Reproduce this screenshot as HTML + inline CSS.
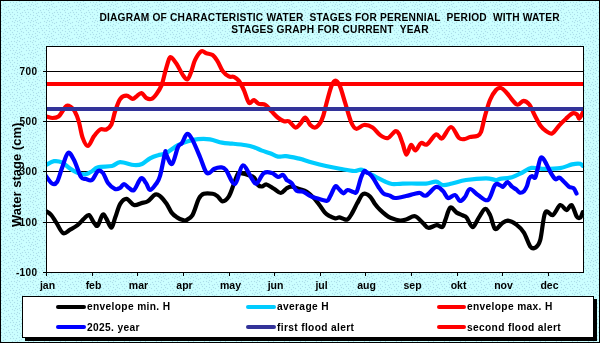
<!DOCTYPE html>
<html><head><meta charset="utf-8"><style>
html,body{margin:0;padding:0;background:#ccffff;overflow:hidden;}
svg{display:block;will-change:transform;}
text{font-family:"Liberation Sans",sans-serif;font-weight:bold;fill:#000;}
</style></head><body>
<svg width="600" height="343" viewBox="0 0 600 343">
<defs>
<pattern id="dp" x="0" y="0" width="16" height="16" patternUnits="userSpaceOnUse">
<rect width="16" height="16" fill="#ccffff"/><rect x="1" y="0" width="1" height="1" fill="#c9fcfd"/><rect x="3" y="0" width="1" height="1" fill="#c9fcfd"/><rect x="5" y="0" width="1" height="1" fill="#c9fcfd"/><rect x="6" y="0" width="1" height="1" fill="#c9fcfd"/><rect x="7" y="0" width="1" height="1" fill="#acdde9"/><rect x="8" y="0" width="1" height="1" fill="#c9fcfd"/><rect x="11" y="0" width="1" height="1" fill="#c9fcfd"/><rect x="12" y="0" width="1" height="1" fill="#acdde9"/><rect x="13" y="0" width="1" height="1" fill="#c9fcfd"/><rect x="0" y="1" width="1" height="1" fill="#c9fcfd"/><rect x="2" y="1" width="1" height="1" fill="#c9fcfd"/><rect x="3" y="1" width="1" height="1" fill="#acdde9"/><rect x="4" y="1" width="1" height="1" fill="#c9fcfd"/><rect x="7" y="1" width="1" height="1" fill="#c9fcfd"/><rect x="10" y="1" width="1" height="1" fill="#c9fcfd"/><rect x="12" y="1" width="1" height="1" fill="#c9fcfd"/><rect x="13" y="1" width="1" height="1" fill="#c9fcfd"/><rect x="0" y="2" width="1" height="1" fill="#acdde9"/><rect x="1" y="2" width="1" height="1" fill="#c9fcfd"/><rect x="3" y="2" width="1" height="1" fill="#c9fcfd"/><rect x="5" y="2" width="1" height="1" fill="#c9fcfd"/><rect x="9" y="2" width="1" height="1" fill="#c9fcfd"/><rect x="10" y="2" width="1" height="1" fill="#acdde9"/><rect x="11" y="2" width="1" height="1" fill="#c9fcfd"/><rect x="12" y="2" width="1" height="1" fill="#c9fcfd"/><rect x="13" y="2" width="1" height="1" fill="#acdde9"/><rect x="14" y="2" width="1" height="1" fill="#c9fcfd"/><rect x="15" y="2" width="1" height="1" fill="#c9fcfd"/><rect x="0" y="3" width="1" height="1" fill="#c9fcfd"/><rect x="3" y="3" width="1" height="1" fill="#c9fcfd"/><rect x="4" y="3" width="1" height="1" fill="#c9fcfd"/><rect x="5" y="3" width="1" height="1" fill="#acdde9"/><rect x="6" y="3" width="1" height="1" fill="#c9fcfd"/><rect x="10" y="3" width="1" height="1" fill="#c9fcfd"/><rect x="13" y="3" width="1" height="1" fill="#c9fcfd"/><rect x="15" y="3" width="1" height="1" fill="#c9fcfd"/><rect x="0" y="4" width="1" height="1" fill="#c9fcfd"/><rect x="1" y="4" width="1" height="1" fill="#c9fcfd"/><rect x="2" y="4" width="1" height="1" fill="#c9fcfd"/><rect x="3" y="4" width="1" height="1" fill="#acdde9"/><rect x="4" y="4" width="1" height="1" fill="#c9fcfd"/><rect x="5" y="4" width="1" height="1" fill="#c9fcfd"/><rect x="12" y="4" width="1" height="1" fill="#c9fcfd"/><rect x="14" y="4" width="1" height="1" fill="#c9fcfd"/><rect x="15" y="4" width="1" height="1" fill="#acdde9"/><rect x="0" y="5" width="1" height="1" fill="#c9fcfd"/><rect x="1" y="5" width="1" height="1" fill="#acdde9"/><rect x="2" y="5" width="1" height="1" fill="#c9fcfd"/><rect x="3" y="5" width="1" height="1" fill="#c9fcfd"/><rect x="4" y="5" width="1" height="1" fill="#c9fcfd"/><rect x="8" y="5" width="1" height="1" fill="#c9fcfd"/><rect x="11" y="5" width="1" height="1" fill="#c9fcfd"/><rect x="12" y="5" width="1" height="1" fill="#acdde9"/><rect x="13" y="5" width="1" height="1" fill="#c9fcfd"/><rect x="14" y="5" width="1" height="1" fill="#c9fcfd"/><rect x="15" y="5" width="1" height="1" fill="#c9fcfd"/><rect x="1" y="6" width="1" height="1" fill="#c9fcfd"/><rect x="3" y="6" width="1" height="1" fill="#c9fcfd"/><rect x="4" y="6" width="1" height="1" fill="#acdde9"/><rect x="5" y="6" width="1" height="1" fill="#c9fcfd"/><rect x="6" y="6" width="1" height="1" fill="#c9fcfd"/><rect x="7" y="6" width="1" height="1" fill="#c9fcfd"/><rect x="8" y="6" width="1" height="1" fill="#acdde9"/><rect x="9" y="6" width="1" height="1" fill="#c9fcfd"/><rect x="12" y="6" width="1" height="1" fill="#c9fcfd"/><rect x="13" y="6" width="1" height="1" fill="#c9fcfd"/><rect x="14" y="6" width="1" height="1" fill="#acdde9"/><rect x="15" y="6" width="1" height="1" fill="#c9fcfd"/><rect x="1" y="7" width="1" height="1" fill="#c9fcfd"/><rect x="4" y="7" width="1" height="1" fill="#c9fcfd"/><rect x="5" y="7" width="1" height="1" fill="#c9fcfd"/><rect x="6" y="7" width="1" height="1" fill="#acdde9"/><rect x="7" y="7" width="1" height="1" fill="#c9fcfd"/><rect x="8" y="7" width="1" height="1" fill="#c9fcfd"/><rect x="14" y="7" width="1" height="1" fill="#c9fcfd"/><rect x="0" y="8" width="1" height="1" fill="#c9fcfd"/><rect x="1" y="8" width="1" height="1" fill="#acdde9"/><rect x="2" y="8" width="1" height="1" fill="#c9fcfd"/><rect x="3" y="8" width="1" height="1" fill="#c9fcfd"/><rect x="6" y="8" width="1" height="1" fill="#c9fcfd"/><rect x="11" y="8" width="1" height="1" fill="#c9fcfd"/><rect x="14" y="8" width="1" height="1" fill="#c9fcfd"/><rect x="0" y="9" width="1" height="1" fill="#c9fcfd"/><rect x="1" y="9" width="1" height="1" fill="#c9fcfd"/><rect x="2" y="9" width="1" height="1" fill="#c9fcfd"/><rect x="3" y="9" width="1" height="1" fill="#acdde9"/><rect x="4" y="9" width="1" height="1" fill="#c9fcfd"/><rect x="8" y="9" width="1" height="1" fill="#c9fcfd"/><rect x="10" y="9" width="1" height="1" fill="#c9fcfd"/><rect x="11" y="9" width="1" height="1" fill="#acdde9"/><rect x="12" y="9" width="1" height="1" fill="#c9fcfd"/><rect x="13" y="9" width="1" height="1" fill="#c9fcfd"/><rect x="14" y="9" width="1" height="1" fill="#acdde9"/><rect x="15" y="9" width="1" height="1" fill="#c9fcfd"/><rect x="0" y="10" width="1" height="1" fill="#acdde9"/><rect x="1" y="10" width="1" height="1" fill="#c9fcfd"/><rect x="3" y="10" width="1" height="1" fill="#c9fcfd"/><rect x="7" y="10" width="1" height="1" fill="#c9fcfd"/><rect x="8" y="10" width="1" height="1" fill="#acdde9"/><rect x="9" y="10" width="1" height="1" fill="#c9fcfd"/><rect x="11" y="10" width="1" height="1" fill="#c9fcfd"/><rect x="14" y="10" width="1" height="1" fill="#c9fcfd"/><rect x="15" y="10" width="1" height="1" fill="#c9fcfd"/><rect x="0" y="11" width="1" height="1" fill="#c9fcfd"/><rect x="1" y="11" width="1" height="1" fill="#c9fcfd"/><rect x="6" y="11" width="1" height="1" fill="#c9fcfd"/><rect x="8" y="11" width="1" height="1" fill="#c9fcfd"/><rect x="9" y="11" width="1" height="1" fill="#c9fcfd"/><rect x="12" y="11" width="1" height="1" fill="#c9fcfd"/><rect x="0" y="12" width="1" height="1" fill="#c9fcfd"/><rect x="1" y="12" width="1" height="1" fill="#acdde9"/><rect x="2" y="12" width="1" height="1" fill="#c9fcfd"/><rect x="4" y="12" width="1" height="1" fill="#c9fcfd"/><rect x="5" y="12" width="1" height="1" fill="#c9fcfd"/><rect x="6" y="12" width="1" height="1" fill="#acdde9"/><rect x="7" y="12" width="1" height="1" fill="#c9fcfd"/><rect x="8" y="12" width="1" height="1" fill="#c9fcfd"/><rect x="9" y="12" width="1" height="1" fill="#acdde9"/><rect x="10" y="12" width="1" height="1" fill="#c9fcfd"/><rect x="11" y="12" width="1" height="1" fill="#c9fcfd"/><rect x="12" y="12" width="1" height="1" fill="#acdde9"/><rect x="13" y="12" width="1" height="1" fill="#c9fcfd"/><rect x="1" y="13" width="1" height="1" fill="#c9fcfd"/><rect x="3" y="13" width="1" height="1" fill="#c9fcfd"/><rect x="4" y="13" width="1" height="1" fill="#acdde9"/><rect x="5" y="13" width="1" height="1" fill="#c9fcfd"/><rect x="6" y="13" width="1" height="1" fill="#c9fcfd"/><rect x="9" y="13" width="1" height="1" fill="#c9fcfd"/><rect x="10" y="13" width="1" height="1" fill="#c9fcfd"/><rect x="12" y="13" width="1" height="1" fill="#c9fcfd"/><rect x="14" y="13" width="1" height="1" fill="#c9fcfd"/><rect x="1" y="14" width="1" height="1" fill="#c9fcfd"/><rect x="4" y="14" width="1" height="1" fill="#c9fcfd"/><rect x="5" y="14" width="1" height="1" fill="#c9fcfd"/><rect x="9" y="14" width="1" height="1" fill="#c9fcfd"/><rect x="10" y="14" width="1" height="1" fill="#acdde9"/><rect x="11" y="14" width="1" height="1" fill="#c9fcfd"/><rect x="13" y="14" width="1" height="1" fill="#c9fcfd"/><rect x="14" y="14" width="1" height="1" fill="#acdde9"/><rect x="15" y="14" width="1" height="1" fill="#c9fcfd"/><rect x="0" y="15" width="1" height="1" fill="#c9fcfd"/><rect x="1" y="15" width="1" height="1" fill="#acdde9"/><rect x="2" y="15" width="1" height="1" fill="#c9fcfd"/><rect x="4" y="15" width="1" height="1" fill="#c9fcfd"/><rect x="5" y="15" width="1" height="1" fill="#acdde9"/><rect x="6" y="15" width="1" height="1" fill="#c9fcfd"/><rect x="7" y="15" width="1" height="1" fill="#c9fcfd"/><rect x="10" y="15" width="1" height="1" fill="#c9fcfd"/><rect x="12" y="15" width="1" height="1" fill="#c9fcfd"/><rect x="14" y="15" width="1" height="1" fill="#c9fcfd"/>
</pattern>
<filter id="bl" x="0" y="0" width="1" height="1"><feGaussianBlur stdDeviation="0.5"/></filter>
<clipPath id="pc"><rect x="47" y="47" width="536" height="225"/></clipPath>
</defs>
<rect x="0" y="0" width="600" height="343" fill="url(#dp)"/>
<g fill="#000" shape-rendering="crispEdges">
<rect x="0" y="0" width="600" height="1"/><rect x="0" y="0" width="1" height="343"/>
<rect x="599" y="0" width="1" height="343"/><rect x="0" y="342" width="600" height="1"/>
</g>
<text x="329.6" y="21" font-size="10.2" letter-spacing="0.2" text-anchor="middle" xml:space="preserve">DIAGRAM OF CHARACTERISTIC WATER  STAGES FOR PERENNIAL  PERIOD  WITH WATER</text>
<text x="330" y="33" font-size="10.2" letter-spacing="0.2" text-anchor="middle" xml:space="preserve">STAGES GRAPH FOR CURRENT  YEAR</text>
<rect x="46" y="46" width="538" height="227" fill="#fff"/>
<g stroke="#000" stroke-width="1" shape-rendering="crispEdges"><line x1="43" y1="71.5" x2="583" y2="71.5"/><line x1="43" y1="121.5" x2="583" y2="121.5"/><line x1="43" y1="171.5" x2="583" y2="171.5"/><line x1="43" y1="222.5" x2="583" y2="222.5"/><line x1="43" y1="272.5" x2="46" y2="272.5"/><line x1="46.5" y1="272" x2="46.5" y2="276"/><line x1="92.5" y1="272" x2="92.5" y2="276"/><line x1="137.5" y1="272" x2="137.5" y2="276"/><line x1="183.5" y1="272" x2="183.5" y2="276"/><line x1="229.5" y1="272" x2="229.5" y2="276"/><line x1="274.5" y1="272" x2="274.5" y2="276"/><line x1="320.5" y1="272" x2="320.5" y2="276"/><line x1="365.5" y1="272" x2="365.5" y2="276"/><line x1="411.5" y1="272" x2="411.5" y2="276"/><line x1="457.5" y1="272" x2="457.5" y2="276"/><line x1="502.5" y1="272" x2="502.5" y2="276"/><line x1="548.5" y1="272" x2="548.5" y2="276"/></g>
<g fill="none" stroke-linejoin="round" stroke-linecap="round" stroke-width="4.2" clip-path="url(#pc)">
<path d="M46.3,211.3 C47.1,211.9 49.6,213.2 51.3,215.1 C53.0,217.0 54.3,219.6 56.3,222.6 C58.3,225.6 60.8,231.9 63.1,233.1 C65.4,234.3 67.7,230.9 70.1,229.6 C72.5,228.3 75.3,226.9 77.6,225.1 C79.9,223.3 82.0,220.5 83.9,218.8 C85.8,217.1 87.2,214.5 88.9,215.1 C90.6,215.7 92.5,220.8 93.9,222.6 C95.4,224.3 96.1,226.9 97.6,225.6 C99.1,224.3 101.2,215.7 102.7,214.6 C104.2,213.5 105.0,216.6 106.4,218.8 C107.9,221.0 109.9,227.8 111.4,227.6 C112.9,227.4 113.7,221.6 115.2,217.6 C116.7,213.6 118.3,206.9 120.2,203.8 C122.1,200.7 124.2,198.6 126.5,198.8 C128.8,199.0 131.5,204.4 134.0,205.1 C136.5,205.8 139.2,203.7 141.5,203.1 C143.8,202.5 145.5,202.7 147.8,201.3 C150.1,199.9 153.2,195.3 155.3,194.5 C157.4,193.7 158.4,194.8 160.3,196.3 C162.2,197.9 164.7,201.1 166.6,203.8 C168.5,206.5 169.9,210.4 171.6,212.6 C173.3,214.8 174.7,215.8 176.6,217.1 C178.5,218.3 181.3,219.6 182.9,220.1 C184.5,220.6 184.7,220.9 186.3,220.1 C187.9,219.3 190.4,218.6 192.5,215.1 C194.6,211.6 196.9,202.4 198.8,198.8 C200.7,195.2 201.5,194.6 203.8,193.8 C206.1,193.0 210.3,193.4 212.6,193.8 C214.9,194.2 215.9,195.1 217.6,196.3 C219.3,197.6 220.7,201.3 222.6,201.3 C224.5,201.3 227.0,199.2 228.9,196.3 C230.8,193.4 232.4,187.6 233.9,183.8 C235.4,180.0 236.7,175.2 238.0,173.5 C239.3,171.8 240.3,173.2 242.0,173.4 C243.7,173.7 246.0,174.3 248.0,175.0 C250.0,175.7 252.3,175.8 254.0,177.5 C255.7,179.2 256.7,183.5 258.0,185.0 C259.3,186.5 260.6,186.6 262.0,186.5 C263.4,186.4 264.5,184.1 266.5,184.5 C268.5,184.9 271.6,187.4 274.0,188.8 C276.4,190.2 278.7,193.1 280.8,193.0 C282.9,192.9 284.9,189.4 286.7,188.3 C288.5,187.2 289.5,186.5 291.7,186.7 C293.9,186.8 297.5,188.4 300.0,189.2 C302.5,190.0 304.3,190.2 306.7,191.7 C309.1,193.2 312.0,196.0 314.2,198.3 C316.4,200.7 318.2,203.5 320.0,205.8 C321.8,208.2 323.1,210.7 324.7,212.4 C326.2,214.1 327.6,214.9 329.3,215.9 C331.1,216.9 333.5,218.1 335.2,218.3 C336.9,218.6 337.9,217.3 339.3,217.4 C340.7,217.5 342.0,218.5 343.3,218.8 C344.6,219.1 346.0,220.2 347.4,219.4 C348.8,218.6 349.9,216.9 351.5,214.2 C353.1,211.5 355.6,206.3 357.3,203.1 C359.1,199.9 360.6,196.4 362.0,194.9 C363.4,193.4 364.1,193.5 365.5,193.8 C366.9,194.1 368.6,195.0 370.2,196.7 C371.8,198.3 373.2,201.5 374.8,203.7 C376.4,205.9 378.1,207.9 380.0,209.8 C381.9,211.7 384.2,213.6 386.0,215.0 C387.8,216.4 388.7,217.1 391.0,218.0 C393.3,218.9 397.4,220.3 400.0,220.5 C402.6,220.7 404.2,219.9 406.7,219.2 C409.2,218.5 412.3,215.6 415.0,216.2 C417.7,216.8 420.6,220.9 422.8,222.8 C425.0,224.7 426.0,227.4 428.3,227.8 C430.6,228.2 434.3,225.3 436.7,225.2 C439.1,225.1 441.1,227.8 442.5,227.0 C443.9,226.2 444.0,223.3 445.3,220.1 C446.6,216.9 448.4,208.8 450.3,207.6 C452.2,206.3 454.5,211.3 456.6,212.6 C458.7,213.9 461.3,214.7 463.0,215.5 C464.7,216.3 465.0,215.7 466.6,217.6 C468.2,219.5 470.6,227.1 472.6,227.1 C474.6,227.1 476.7,220.6 478.8,217.6 C480.9,214.6 483.1,209.4 485.0,209.0 C486.9,208.6 488.4,211.8 490.1,215.1 C491.8,218.4 493.2,227.4 495.1,228.9 C497.0,230.4 499.3,225.3 501.4,223.9 C503.5,222.5 505.1,220.5 507.6,220.6 C510.1,220.7 513.7,222.6 516.4,224.6 C519.1,226.6 521.6,229.0 523.9,232.6 C526.2,236.2 528.3,243.9 530.2,246.4 C532.1,248.9 533.5,248.7 535.2,247.7 C536.9,246.7 538.5,246.0 540.2,240.2 C541.9,234.3 543.1,216.8 545.2,212.6 C547.3,208.4 550.3,216.3 552.8,215.1 C555.3,213.8 558.0,205.9 560.3,205.1 C562.6,204.3 564.6,210.1 566.5,210.1 C568.4,210.1 569.9,204.1 571.6,205.1 C573.3,206.1 575.2,214.2 576.6,216.3 C578.0,218.4 579.3,218.3 580.3,217.6 C581.3,216.9 582.4,213.0 582.8,212.1" stroke="#000"/>
<path d="M46.0,165.0 C47.3,164.4 51.3,161.6 54.0,161.2 C56.7,160.8 59.3,161.2 62.0,162.4 C64.7,163.6 67.3,166.8 70.0,168.6 C72.7,170.4 75.3,172.1 78.0,173.0 C80.7,173.9 83.7,174.5 86.0,174.2 C88.3,173.9 90.0,172.4 92.0,171.2 C94.0,170.0 94.7,168.1 98.0,167.2 C101.3,166.3 108.3,166.8 112.0,166.0 C115.7,165.2 116.3,162.4 120.0,162.2 C123.7,162.0 130.3,164.7 134.0,165.0 C137.7,165.3 139.3,165.1 142.0,164.0 C144.7,162.9 147.3,159.8 150.0,158.3 C152.7,156.8 155.3,156.0 158.0,155.2 C160.7,154.3 162.7,154.9 166.0,153.2 C169.3,151.5 174.3,147.2 178.0,145.2 C181.7,143.2 184.7,142.2 188.0,141.2 C191.3,140.2 194.3,139.5 198.0,139.2 C201.7,138.9 206.0,138.8 210.0,139.4 C214.0,140.0 218.3,141.9 222.0,142.6 C225.7,143.3 228.0,143.2 232.0,143.6 C236.0,144.0 242.3,144.6 246.0,145.2 C249.7,145.8 251.3,146.3 254.0,147.2 C256.7,148.1 259.3,149.6 262.0,150.6 C264.7,151.6 267.3,152.2 270.0,153.2 C272.7,154.2 275.3,156.1 278.0,156.6 C280.7,157.1 282.3,155.8 286.0,156.2 C289.7,156.6 297.3,158.3 300.3,158.9 C303.3,159.5 301.9,159.3 304.0,160.0 C306.1,160.7 309.3,161.8 313.0,162.8 C316.7,163.8 321.5,165.0 326.0,166.0 C330.5,167.0 335.3,168.0 340.0,168.8 C344.7,169.6 350.3,170.8 354.0,171.0 C357.7,171.2 359.0,169.1 362.0,169.8 C365.0,170.5 368.2,173.1 372.0,175.0 C375.8,176.9 381.7,180.0 385.0,181.5 C388.3,183.0 389.5,183.6 392.0,184.0 C394.5,184.4 396.7,183.9 400.0,183.8 C403.3,183.7 407.4,183.5 411.7,183.5 C416.0,183.5 421.9,183.9 426.0,183.6 C430.1,183.3 433.2,181.4 436.0,181.6 C438.8,181.8 440.3,184.7 443.0,185.0 C445.7,185.3 448.2,184.3 452.0,183.5 C455.8,182.7 460.3,180.9 466.0,180.0 C471.7,179.1 481.0,178.3 486.0,178.3 C491.0,178.3 493.7,179.9 496.0,180.0 C498.3,180.1 497.3,179.4 500.0,178.9 C502.7,178.4 508.2,178.3 512.0,177.2 C515.8,176.1 519.2,174.1 522.5,172.5 C525.8,170.9 527.8,168.5 531.5,167.9 C535.2,167.3 540.2,168.9 545.0,168.9 C549.8,168.9 555.5,168.9 560.0,168.2 C564.5,167.4 568.8,165.2 572.0,164.4 C575.2,163.7 577.7,163.4 579.5,163.7 C581.3,163.9 582.4,165.5 583.0,165.9" stroke="#00ccff"/>
<path d="M44.0,116.0 C44.4,116.1 44.9,116.1 46.3,116.4 C47.7,116.7 50.5,118.0 52.5,118.0 C54.5,118.0 56.9,117.6 58.5,116.5 C60.1,115.4 61.1,113.1 62.4,111.3 C63.7,109.5 65.1,106.5 66.5,105.8 C67.9,105.0 69.2,105.9 70.6,106.8 C72.0,107.7 73.3,108.8 74.7,111.3 C76.1,113.8 77.5,117.1 78.8,121.5 C80.1,125.9 81.1,133.5 82.6,137.6 C84.1,141.7 86.1,146.2 88.0,146.0 C89.9,145.8 91.9,139.1 93.9,136.3 C95.9,133.6 98.1,130.6 100.2,129.5 C102.3,128.4 104.5,130.3 106.4,129.5 C108.3,128.7 109.9,127.6 111.4,124.5 C112.9,121.4 113.7,115.3 115.2,111.0 C116.7,106.7 118.3,101.5 120.2,98.9 C122.1,96.3 124.4,95.6 126.5,95.6 C128.6,95.6 131.0,98.8 132.7,98.9 C134.4,99.0 135.0,97.4 136.5,96.4 C138.0,95.4 139.8,92.8 141.5,93.1 C143.2,93.4 144.8,97.1 146.5,98.1 C148.2,99.1 149.8,99.6 151.5,98.9 C153.2,98.2 154.8,96.2 156.5,93.9 C158.2,91.6 160.1,88.8 161.6,85.1 C163.1,81.3 164.1,75.8 165.3,71.4 C166.6,67.0 168.1,61.1 169.1,58.8 C170.1,56.5 170.3,56.8 171.6,57.6 C172.8,58.5 174.7,61.0 176.6,63.9 C178.5,66.8 181.1,72.5 182.9,75.1 C184.7,77.7 186.1,80.0 187.5,79.4 C188.9,78.8 190.1,74.6 191.3,71.4 C192.6,68.2 193.3,63.5 195.0,60.1 C196.7,56.8 199.4,52.4 201.3,51.3 C203.2,50.2 204.4,52.7 206.3,53.3 C208.2,53.9 210.7,53.8 212.6,55.1 C214.5,56.4 215.9,58.7 217.6,61.3 C219.3,63.9 220.7,68.4 222.6,70.9 C224.5,73.4 227.0,75.4 228.9,76.4 C230.8,77.4 232.2,76.2 233.9,76.9 C235.6,77.7 237.2,78.7 238.9,80.9 C240.6,83.1 242.2,86.5 243.9,90.1 C245.6,93.7 247.2,101.0 248.9,102.7 C250.6,104.4 252.2,100.0 253.9,100.2 C255.6,100.4 257.0,103.2 258.9,103.9 C260.8,104.7 263.1,103.5 265.2,104.7 C267.3,105.9 269.4,109.2 271.5,111.3 C273.6,113.4 275.6,115.8 277.7,117.5 C279.8,119.2 282.1,120.7 284.0,121.3 C285.9,121.9 287.1,120.3 289.0,121.3 C290.9,122.3 293.4,127.1 295.3,127.5 C297.2,127.9 298.6,125.5 300.3,123.8 C302.0,122.1 303.6,117.3 305.3,117.5 C307.0,117.7 308.6,123.3 310.3,125.0 C312.0,126.7 313.6,127.9 315.3,127.5 C317.0,127.1 319.0,124.6 320.4,122.5 C321.8,120.4 322.5,118.1 323.5,115.0 C324.5,111.9 325.0,108.8 326.3,104.0 C327.6,99.2 329.8,90.3 331.3,86.4 C332.8,82.5 334.1,80.6 335.5,80.6 C336.9,80.6 338.4,82.7 340.0,86.4 C341.6,90.1 343.2,96.7 345.1,102.7 C347.0,108.7 349.4,118.2 351.3,122.5 C353.2,126.8 354.2,128.4 356.3,128.8 C358.4,129.2 361.2,125.2 363.9,125.0 C366.6,124.8 369.9,125.8 372.6,127.5 C375.3,129.2 377.7,133.3 380.2,135.1 C382.7,136.9 385.2,138.7 387.7,138.1 C390.2,137.5 393.3,132.0 395.2,131.3 C397.1,130.6 397.6,131.7 398.9,133.8 C400.1,135.9 401.4,140.3 402.7,143.8 C404.0,147.3 405.1,154.4 406.5,154.6 C407.9,154.8 409.5,145.7 411.0,145.0 C412.5,144.3 413.8,150.8 415.5,150.5 C417.2,150.2 419.1,144.0 421.0,143.0 C422.9,142.0 424.5,145.9 427.0,144.5 C429.5,143.1 433.5,135.4 436.0,134.4 C438.5,133.4 439.5,139.6 442.0,138.4 C444.5,137.2 448.2,127.1 451.0,127.0 C453.8,126.9 456.7,136.0 459.0,138.0 C461.3,140.0 463.2,139.2 465.0,139.0 C466.8,138.8 468.0,137.5 470.0,137.0 C472.0,136.5 475.2,136.8 477.0,136.0 C478.8,135.2 479.7,135.3 481.0,132.0 C482.3,128.7 483.5,121.3 485.0,116.0 C486.5,110.7 488.2,104.3 490.0,100.0 C491.8,95.7 494.2,92.0 496.0,90.0 C497.8,88.0 499.3,87.7 501.0,88.0 C502.7,88.3 503.4,89.2 506.0,92.0 C508.6,94.8 513.8,103.0 516.7,104.5 C519.6,106.0 521.2,100.8 523.3,100.8 C525.4,100.8 527.4,102.1 529.3,104.5 C531.2,106.9 532.8,111.7 534.7,115.3 C536.6,118.9 538.8,123.4 540.7,126.0 C542.6,128.6 544.1,129.8 546.0,131.0 C547.9,132.2 549.8,134.4 552.0,133.5 C554.2,132.6 557.0,127.8 559.3,125.3 C561.6,122.8 563.8,120.7 566.0,118.7 C568.2,116.7 570.9,114.0 572.7,113.3 C574.5,112.6 575.9,113.6 577.0,114.5 C578.1,115.4 578.3,118.8 579.3,118.5 C580.2,118.2 581.8,114.5 582.7,112.7 C583.7,111.0 584.6,108.8 585.0,108.0" stroke="#ff0000"/>
<path d="M46.0,176.0 C47.0,177.2 50.2,182.5 52.0,183.5 C53.8,184.5 55.3,184.6 57.0,182.0 C58.7,179.4 60.2,172.8 62.0,168.0 C63.8,163.2 66.0,154.3 68.0,153.0 C70.0,151.7 71.8,156.0 74.0,160.0 C76.2,164.0 79.0,173.8 81.0,177.0 C83.0,180.2 84.2,178.5 86.0,179.0 C87.8,179.5 90.0,181.3 92.0,180.0 C94.0,178.7 96.2,172.2 98.0,171.0 C99.8,169.8 101.3,171.0 103.0,173.0 C104.7,175.0 106.0,180.3 108.0,183.0 C110.0,185.7 113.0,188.2 115.0,189.0 C117.0,189.8 118.5,188.8 120.0,188.0 C121.5,187.2 122.5,184.0 124.0,184.0 C125.5,184.0 127.3,187.0 129.0,188.0 C130.7,189.0 132.0,191.6 134.0,190.0 C136.0,188.4 139.0,179.6 141.0,178.4 C143.0,177.2 144.5,181.1 146.0,183.0 C147.5,184.9 148.3,189.8 150.0,190.0 C151.7,190.2 154.3,186.3 156.0,184.0 C157.7,181.7 158.5,181.2 160.0,176.0 C161.5,170.8 164.0,156.7 165.0,153.0 C166.0,149.3 164.8,152.2 166.0,154.0 C167.2,155.8 170.0,165.2 172.0,164.0 C174.0,162.8 176.3,150.5 178.0,147.0 C179.7,143.5 180.5,145.2 182.0,143.0 C183.5,140.8 185.3,134.7 187.0,134.0 C188.7,133.3 189.8,135.2 192.0,139.0 C194.2,142.8 197.7,151.5 200.0,157.0 C202.3,162.5 204.3,169.4 206.0,172.0 C207.7,174.6 208.7,173.0 210.0,172.5 C211.3,172.0 212.2,169.8 214.0,169.0 C215.8,168.2 219.0,167.2 221.0,167.4 C223.0,167.6 223.7,167.2 226.0,170.0 C228.3,172.8 232.2,184.8 235.0,184.0 C237.8,183.2 239.9,166.3 242.7,165.5 C245.5,164.7 249.7,176.0 252.0,179.0 C254.3,182.0 254.6,184.5 256.6,183.5 C258.6,182.5 261.4,174.8 264.0,173.0 C266.6,171.2 269.7,172.3 272.0,173.0 C274.3,173.7 276.2,176.7 278.0,177.0 C279.8,177.3 281.6,174.5 283.0,175.0 C284.4,175.5 286.1,179.2 286.7,180.0 C287.3,180.8 285.9,179.4 286.7,180.0 C287.5,180.6 290.0,181.5 291.7,183.3 C293.4,185.1 294.8,189.4 296.7,190.8 C298.6,192.2 301.1,190.9 303.3,191.7 C305.5,192.5 307.8,194.7 310.0,195.8 C312.2,196.9 313.9,197.5 316.7,198.3 C319.5,199.1 324.5,201.1 326.7,200.8 C328.9,200.5 328.6,199.0 330.0,196.7 C331.4,194.3 333.6,188.1 335.0,186.7 C336.4,185.3 336.9,187.2 338.3,188.3 C339.7,189.4 341.8,193.0 343.3,193.3 C344.8,193.6 345.8,190.2 347.5,190.0 C349.2,189.8 351.8,191.7 353.3,192.0 C354.8,192.3 355.4,194.0 356.7,191.7 C357.9,189.4 359.6,181.7 360.8,178.3 C362.1,174.9 363.2,172.3 364.2,171.3 C365.2,170.3 365.7,172.0 366.7,172.5 C367.7,173.0 368.9,173.2 370.0,174.2 C371.1,175.2 371.9,176.2 373.3,178.3 C374.7,180.4 376.6,184.2 378.3,186.7 C380.0,189.2 381.4,191.8 383.3,193.3 C385.2,194.8 388.1,195.0 390.0,195.8 C391.9,196.6 392.3,198.0 395.0,198.0 C397.7,198.0 402.8,196.7 406.0,196.0 C409.2,195.3 411.7,194.5 414.0,194.0 C416.3,193.5 418.0,192.7 420.0,193.0 C422.0,193.3 423.3,196.6 426.0,195.6 C428.7,194.6 433.2,187.8 436.0,187.0 C438.8,186.2 441.0,189.2 443.0,191.0 C445.0,192.8 446.0,197.3 448.0,198.0 C450.0,198.7 453.0,194.5 455.0,195.0 C457.0,195.5 458.3,200.7 460.0,201.0 C461.7,201.3 463.3,199.0 465.0,197.0 C466.7,195.0 467.8,189.3 470.0,189.0 C472.2,188.7 475.0,193.2 478.0,195.0 C481.0,196.8 485.2,201.7 488.0,200.0 C490.8,198.3 493.0,187.5 495.0,185.0 C497.0,182.5 498.7,184.9 500.0,185.2 C501.3,185.5 501.8,187.2 503.0,186.7 C504.2,186.2 506.0,182.2 507.5,182.2 C509.0,182.2 510.5,185.4 512.0,186.7 C513.5,187.9 515.2,188.7 516.5,189.7 C517.8,190.7 518.8,192.4 520.0,192.7 C521.2,192.9 522.8,192.3 524.0,191.2 C525.2,190.1 526.1,188.1 527.0,186.0 C527.9,183.9 528.3,180.1 529.2,178.5 C530.1,176.9 531.2,176.3 532.2,176.2 C533.2,176.1 534.3,178.8 535.2,177.7 C536.1,176.6 536.6,172.8 537.5,169.5 C538.4,166.2 539.5,159.9 540.5,158.2 C541.5,156.4 542.5,158.0 543.5,159.0 C544.5,160.0 545.2,161.8 546.5,164.2 C547.8,166.6 549.5,170.7 551.0,173.2 C552.5,175.7 554.1,178.4 555.5,179.2 C556.9,179.9 558.0,177.4 559.2,177.7 C560.5,177.9 561.4,179.2 563.0,180.7 C564.6,182.2 567.2,185.4 569.0,186.7 C570.8,187.9 572.2,187.1 573.5,188.2 C574.8,189.3 576.0,192.6 576.5,193.5" stroke="#0000ff"/>
<rect x="46" y="82" width="538" height="4" fill="#ff0000" stroke="none"/>
<rect x="46" y="107" width="538" height="4" fill="#333399" stroke="none"/>
</g>
<rect x="46.5" y="46.5" width="537" height="226" fill="none" stroke="#000" stroke-width="1" shape-rendering="crispEdges"/>
<g font-size="10" letter-spacing="0.4"><text x="37.5" y="75.0" text-anchor="end">700</text><text x="37.5" y="125.0" text-anchor="end">500</text><text x="37.5" y="175.0" text-anchor="end">300</text><text x="37.5" y="226.0" text-anchor="end">100</text><text x="37.5" y="276.0" text-anchor="end">-100</text></g>
<g font-size="10.5" text-anchor="middle"><text x="47.5" y="289">jan</text><text x="93.5" y="289">feb</text><text x="138.5" y="289">mar</text><text x="184.5" y="289">apr</text><text x="230.5" y="289">may</text><text x="275.5" y="289">jun</text><text x="321.5" y="289">jul</text><text x="366.5" y="289">aug</text><text x="412.5" y="289">sep</text><text x="458.5" y="289">okt</text><text x="503.5" y="289">nov</text><text x="549.5" y="289">dec</text></g>
<text transform="translate(21.4,227) rotate(-90)" font-size="13">Water stage (cm)</text>
<g shape-rendering="crispEdges">
<rect x="25" y="299" width="572" height="42" fill="#000"/>
<rect x="22" y="296" width="572" height="42" fill="#000"/>
<rect x="23" y="297" width="570" height="40" fill="#fff"/>
</g>
<g stroke-width="4" stroke-linecap="round">
<line x1="58" y1="307" x2="84" y2="307" stroke="#000"/>
<line x1="58" y1="327" x2="84" y2="327" stroke="#0000ff"/>
<line x1="248" y1="307" x2="274" y2="307" stroke="#00ccff"/>
<line x1="248" y1="327" x2="274" y2="327" stroke="#333399"/>
<line x1="439" y1="307" x2="464" y2="307" stroke="#ff0000"/>
<line x1="439" y1="327" x2="464" y2="327" stroke="#ff0000"/>
</g>
<g font-size="10.2" letter-spacing="0.35">
<text x="87" y="309.8">envelope min. H</text>
<text x="87" y="331">2025. year</text>
<text x="277" y="309.8">average H</text>
<text x="277" y="331">first flood alert</text>
<text x="467" y="309.8">envelope max. H</text>
<text x="467" y="331">second flood alert</text>
</g>
</svg>
</body></html>
